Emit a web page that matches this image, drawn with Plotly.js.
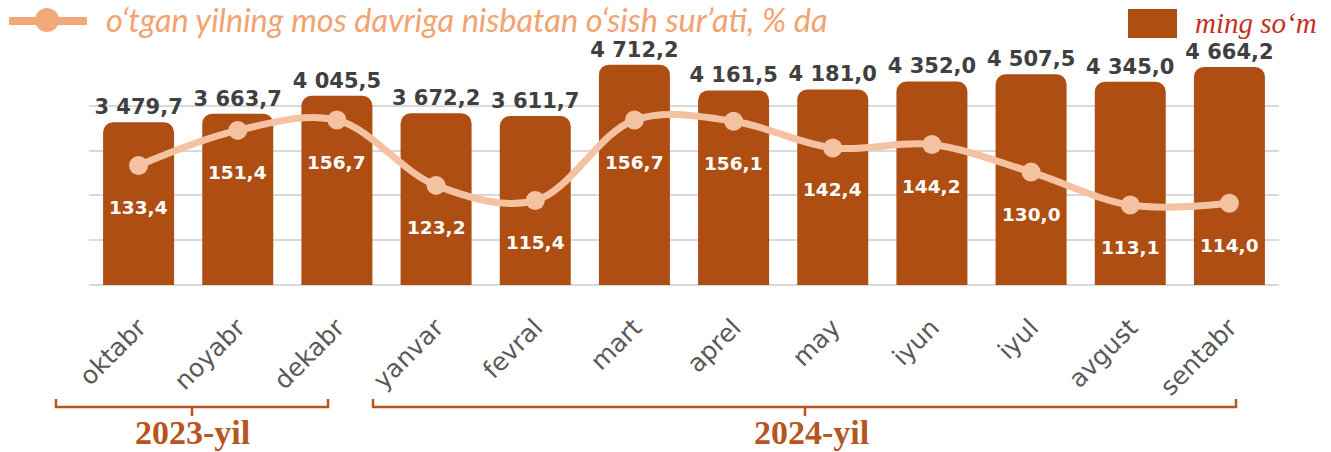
<!DOCTYPE html>
<html><head><meta charset="utf-8">
<script src="https://cdn.plot.ly/plotly-3.0.1.min.js"></script>
<style>body{margin:0;background:#fff}#chart{width:1331px;height:452px}</style>
</head><body><div id="chart"></div>
<script>
const months = ["oktabr","noyabr","dekabr","yanvar","fevral","mart","aprel","may","iyun","iyul","avgust","sentabr"];
const wages = [3479.7,3663.7,4045.5,3672.2,3611.7,4712.2,4161.5,4181.0,4352.0,4507.5,4345.0,4664.2];
const growth = [133.4,151.4,156.7,123.2,115.4,156.7,156.1,142.4,144.2,130.0,113.1,114.0];
const yearLabels = ["2023-yil","2024-yil"];
const legendLine = "o‘tgan yilning mos davriga nisbatan o‘sish sur’ati, % da";
const legendBar = "ming so‘m";

const L=89, R=1279, T=61, B=285;
const W=R-L, H=B-T;
const px=x=>(x-L)/W, py=y=>(B-y)/H;
const brown="#AE4E13", bracket="#B5561E", peach="#F5C2A1";

const fmt = v => v.toFixed(1).replace('.', ',');

const traces = [
 {type:'bar', x:months, y:wages, marker:{color:brown, cornerradius:10},
  texttemplate:'%{y:,.1f}', textposition:'outside', cliponaxis:false, constraintext:'none',
  textfont:{family:'DejaVu Sans', size:21, color:'#404040', weight:'bold'},
  hoverinfo:'none'},
 {type:'scatter', mode:'lines+markers', x:months, y:growth, yaxis:'y2',
  line:{color:peach, width:7, shape:'spline', smoothing:1},
  marker:{color:peach, size:19}, cliponaxis:false, hoverinfo:'none'}
];

const annotations = growth.map((v,i)=>({xref:'x', yref:'y2', x:months[i], y:v, yshift:-42,
  text:fmt(v), showarrow:false, font:{family:'DejaVu Sans', size:18.5, color:'#ffffff', weight:'bold'}}));

annotations.push({xref:'paper', yref:'paper', x:px(104), y:py(19), xanchor:'left', yanchor:'middle',
  text:'<i>'+legendLine+'</i>', showarrow:false, font:{family:'Lato', size:32.5, color:'#F2A371'}});
annotations.push({xref:'paper', yref:'paper', x:px(1193), y:py(23), xanchor:'left', yanchor:'middle',
  text:'<i>'+legendBar+'</i>', showarrow:false, font:{family:'Liberation Serif', size:29, color:'#C62F22'}});
annotations.push({xref:'paper', yref:'paper', x:px(192), y:py(432), xanchor:'center', yanchor:'middle',
  text:'<b>'+yearLabels[0]+'</b>', showarrow:false, font:{family:'Liberation Serif', size:34, color:bracket}});
annotations.push({xref:'paper', yref:'paper', x:px(812), y:py(432), xanchor:'center', yanchor:'middle',
  text:'<b>'+yearLabels[1]+'</b>', showarrow:false, font:{family:'Liberation Serif', size:34, color:bracket}});

function bracketPath(x0,x1,xc,y,up,down){
  return `M${px(x0)},${py(y-up)} L${px(x0)},${py(y)} L${px(x1)},${py(y)} L${px(x1)},${py(y-up)} M${px(xc)},${py(y)} L${px(xc)},${py(y+down)}`;
}
const shapes = [
 {type:'path', xref:'paper', yref:'paper', path:bracketPath(56,328,192,407,8,9), line:{color:bracket, width:2.5}},
 {type:'path', xref:'paper', yref:'paper', path:bracketPath(373,1236,805,407,8,9), line:{color:bracket, width:2.5}},
 {type:'line', xref:'paper', yref:'paper', x0:px(9), x1:px(87), y0:py(21), y1:py(21), line:{color:'#F3A878', width:8}},
 {type:'circle', xref:'paper', yref:'paper', x0:px(35), x1:px(59), y0:py(32), y1:py(8), fillcolor:'#F3A878', line:{width:0}},
 {type:'rect', xref:'paper', yref:'paper', x0:px(1128), x1:px(1177), y0:py(38), y1:py(9), fillcolor:brown, line:{width:0}}
];

const layout = {
 width:1331, height:452, margin:{l:L, r:1331-R, t:T, b:452-B, pad:0},
 paper_bgcolor:'#fff', plot_bgcolor:'#fff', showlegend:false, bargap:0.284,
 separators:', ',
 xaxis:{type:'category', range:[-0.5,11.5], tickangle:-45, ticks:'', showgrid:false, zeroline:false, showline:false,
   tickfont:{family:'DejaVu Sans', size:25, color:'#595959'}, ticklabelstandoff:22},
 yaxis:{range:[0,4790], dtick:958, tick0:0, showticklabels:false, gridcolor:'#D9D9D9', gridwidth:2,
   zeroline:true, zerolinecolor:'#D9D9D9', zerolinewidth:2, ticks:''},
 yaxis2:{overlaying:'y', range:[72.1,187], visible:false, showgrid:false},
 annotations, shapes
};
Plotly.newPlot('chart', traces, layout, {staticPlot:true});
</script></body></html>
